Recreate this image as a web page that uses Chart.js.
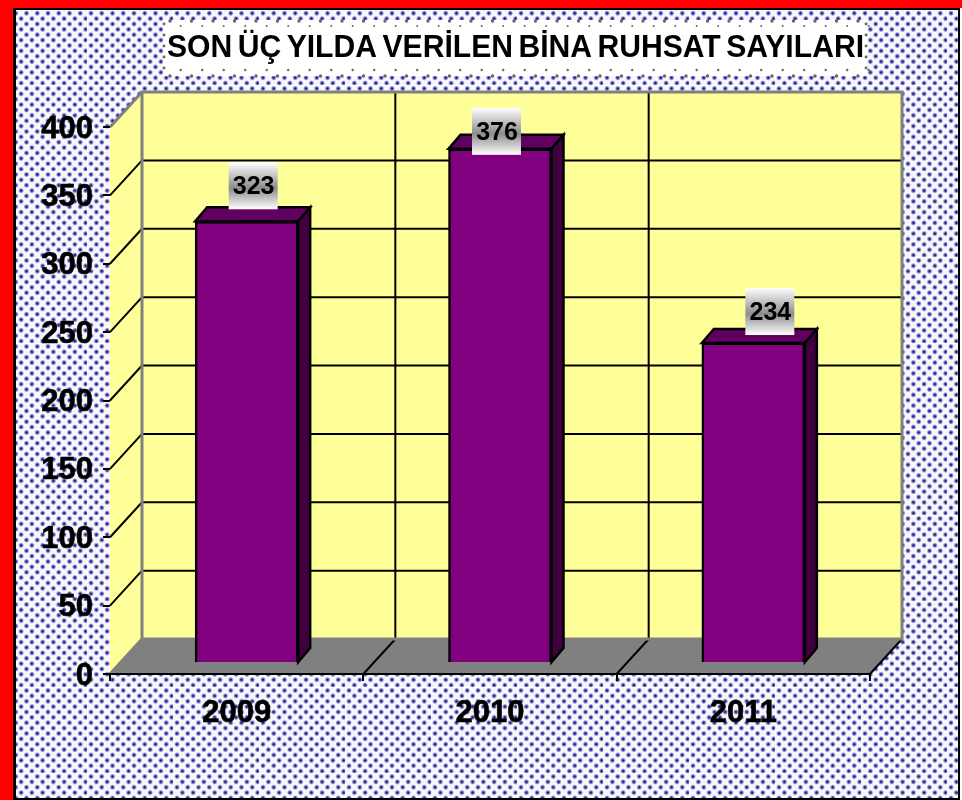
<!DOCTYPE html>
<html>
<head>
<meta charset="utf-8">
<title>Bina Ruhsat Sayilari</title>
<style>
    html, body { margin: 0; padding: 0; background: #fff; }
    canvas { display: block; }
</style>
<script src="https://cdn.jsdelivr.net/npm/chart.js@4"></script>
</head>
<body>
<canvas id="ruhsatChart" width="962" height="800"></canvas>
<script>
// chart data
const titleText = 'SON ÜÇ YILDA VERİLEN BİNA RUHSAT SAYILARI';
const years = ['2009', '2010', '2011'];
const permits = [323, 376, 234];

// 3D look
const wallDepth = { x: 32, y: -35 };
const barShift = { x: 10, y: -11 };
const barDepth = { x: 12, y: -14 };
// label boxes do not sit centred on their bars in the original
const labelShift = [{ x: 7, y: -35 }, { x: -3, y: -17 }, { x: 17, y: -31 }];

function polygon(ctx, points, fill, stroke, lineWidth) {
    ctx.beginPath();
    points.forEach((p, i) => i ? ctx.lineTo(p[0], p[1]) : ctx.moveTo(p[0], p[1]));
    ctx.closePath();
    if (fill) {
        ctx.fillStyle = fill;
        ctx.fill();
    }
    if (stroke) {
        ctx.strokeStyle = stroke;
        ctx.lineWidth = lineWidth;
        ctx.stroke();
    }
}

function line(ctx, x1, y1, x2, y2) {
    ctx.beginPath();
    ctx.moveTo(x1, y1);
    ctx.lineTo(x2, y2);
    ctx.stroke();
}

function dot(ctx, x, y, r) {
    ctx.beginPath();
    ctx.arc(x, y, r, 0, Math.PI * 2);
    ctx.fill();
}

// dotted tile of the page background, with a light seam on two edges
function makeTile() {
    const tile = document.createElement('canvas');
    tile.width = 86;
    tile.height = 86;
    const t = tile.getContext('2d');
    t.fillStyle = '#f6f6fc';
    t.fillRect(0, 0, 86, 86);
    for (let row = 0; row < 16; row++) {
        for (let col = -1; col < 9; col++) {
            const x = col * 10.75 + (row % 2 ? 5.375 : 0) + 3;
            const y = row * 5.375 + 2.5;
            const grad = t.createRadialGradient(x, y, 0.4, x, y, 3.2);
            grad.addColorStop(0, '#18188c');
            grad.addColorStop(0.35, '#6464b4');
            grad.addColorStop(0.7, '#c4c4e6');
            grad.addColorStop(1, 'rgba(246,246,252,0)');
            t.fillStyle = grad;
            dot(t, x, y, 3.2);
        }
    }
    t.fillStyle = 'rgba(255,255,255,0.8)';
    t.fillRect(85, 0, 1, 86);
    t.fillRect(0, 85, 86, 1);
    return tile;
}

// background, frame, title box, then walls and floor
const backdropPlugin = {
    id: 'backdrop',
    afterLayout(chart) {
        chart.titleBlock.left = 167;
        chart.titleBlock.right = 864;
        // tick labels sit a little lower than the tick marks
        chart.scales.y.getLabelItems().forEach(item => { item.options.translation[1] += 2; });
    },
    beforeDraw(chart) {
        const ctx = chart.ctx;
        const { left, right, top, bottom } = chart.chartArea;
        const yScale = chart.scales.y;
        const xScale = chart.scales.x;

        ctx.save();
        ctx.translate(2, 0);
        ctx.fillStyle = ctx.createPattern(makeTile(), 'repeat');
        ctx.fillRect(-2, 0, 962, 800);
        ctx.restore();

        // red frame
        ctx.save();
        ctx.fillStyle = '#f00';
        ctx.fillRect(0, 0, 962, 8);
        ctx.fillRect(0, 0, 13, 800);
        ctx.fillStyle = '#000';
        ctx.fillRect(13, 8, 947, 2);
        ctx.fillRect(13, 8, 3, 792);
        ctx.fillRect(958, 8, 2, 792);
        ctx.fillRect(13, 798, 947, 2);
        ctx.fillStyle = '#fff';
        ctx.fillRect(960, 8, 2, 792);

        // title box with its sparse dots
        ctx.fillStyle = '#fff';
        ctx.fillRect(163, 20, 704, 56);
        ctx.fillStyle = '#666';
        for (let x = 170; x < 866; x += 21.5) {
            dot(ctx, x, 21, 1.7);
            dot(ctx, x, 76, 1.7);
            dot(ctx, x + 10.7, 26, 1);
            dot(ctx, x + 10.7, 70, 1.2);
        }
        for (let y = 24; y < 76; y += 11) {
            dot(ctx, 164, y, 1.4);
            dot(ctx, 866, y, 1.4);
        }

        // floor
        const dx = wallDepth.x;
        const dy = wallDepth.y;
        polygon(ctx, [[left, bottom], [left + dx, bottom + dy], [right + dx, bottom + dy], [right, bottom]], '#808080');
        // side wall
        polygon(ctx, [[left, bottom], [left + dx, bottom + dy], [left + dx, top + dy], [left, top]], '#ffff99');
        // back wall
        ctx.fillStyle = '#ffff99';
        ctx.fillRect(left + dx, top + dy, right - left, bottom - top);

        // grid lines on the walls
        ctx.strokeStyle = '#000';
        ctx.lineWidth = 2;
        yScale.ticks.forEach(tick => {
            const y = yScale.getPixelForValue(tick.value);
            if (tick.value === 0 || tick.value === yScale.max) return;
            line(ctx, left, y, left + dx, y + dy);
            line(ctx, left + dx, y + dy, right + dx, y + dy);
        });
        const step = xScale.getPixelForValue(1) - xScale.getPixelForValue(0);
        years.forEach((year, i) => {
            const x = xScale.getPixelForValue(i) + step / 2;
            line(ctx, x, bottom, x + dx, bottom + dy);
            if (i < years.length - 1) line(ctx, x + dx, top + dy, x + dx, bottom + dy);
        });

        // grey wall edges
        ctx.strokeStyle = '#808080';
        ctx.lineWidth = 3;
        line(ctx, left, top, left + dx, top + dy);
        line(ctx, left, bottom, left + dx, bottom + dy);
        ctx.strokeRect(left + dx, top + dy, right - left, bottom - top);
        ctx.restore();

        // the title has narrow word gaps
        ctx.wordSpacing = '-3px';
    },
    beforeDatasetsDraw(chart) {
        chart.ctx.wordSpacing = '0px';
    }
};

// shifts the bars into the box and adds their top and side faces
const barsPlugin = {
    id: 'bars3d',
    beforeDatasetsDraw(chart) {
        const ctx = chart.ctx;
        ctx.save();
        ctx.translate(barShift.x, barShift.y);
        chart.getDatasetMeta(0).data.forEach(bar => {
            const l = bar.x - bar.width / 2;
            const r = bar.x + bar.width / 2;
            const dx = barDepth.x;
            const dy = barDepth.y;
            polygon(ctx, [[l, bar.y], [l + dx, bar.y + dy], [r + dx, bar.y + dy], [r, bar.y]], '#600060', '#000', 2.5);
            polygon(ctx, [[r, bar.y], [r + dx, bar.y + dy], [r + dx, bar.base + dy], [r, bar.base]], '#400040', '#000', 2.5);
        });
    },
    afterDatasetsDraw(chart) {
        const ctx = chart.ctx;
        ctx.restore();

        // value labels with the grey band
        chart.getDatasetMeta(0).data.forEach((bar, i) => {
            const cx = bar.x + barShift.x + labelShift[i].x;
            const cy = bar.y + barShift.y + labelShift[i].y;
            const grad = ctx.createLinearGradient(0, cy - 24, 0, cy + 23);
            grad.addColorStop(0, '#ffffff');
            grad.addColorStop(0.55, '#8c8c8c');
            grad.addColorStop(1, '#ffffff');
            ctx.save();
            ctx.fillStyle = grad;
            ctx.fillRect(cx - 25, cy - 24, 49, 47);
            ctx.fillStyle = '#000';
            ctx.font = 'bold 25px "Liberation Sans", Arial, sans-serif';
            ctx.textAlign = 'center';
            ctx.textBaseline = 'middle';
            ctx.fillText(String(permits[i]), cx, cy + 1);
            ctx.restore();
        });
    }
};

function createChart() {
    const canvas = document.getElementById('ruhsatChart');
    const tickFont = { family: '"Liberation Sans", Arial, sans-serif', size: 31, weight: 'bold' };

    new Chart(canvas.getContext('2d'), {
        type: 'bar',
        data: {
            labels: years,
            datasets: [{
                data: permits,
                backgroundColor: '#800080',
                borderColor: '#000',
                borderWidth: 2.5,
                barThickness: 103,
                clip: false
            }]
        },
        plugins: [backdropPlugin, barsPlugin],
        options: {
            responsive: false,
            animation: false,
            layout: { padding: { right: 92 } },
            plugins: {
                legend: { display: false },
                tooltip: { enabled: false },
                title: {
                    display: true,
                    text: titleText,
                    color: '#000',
                    font: { family: tickFont.family, size: 31, weight: 'bold', lineHeight: 1 },
                    padding: { top: 33, bottom: 63 }
                }
            },
            scales: {
                x: {
                    afterFit: scale => { scale.height = 126; },
                    border: { color: '#000', width: 2 },
                    grid: { drawOnChartArea: false, color: '#000', lineWidth: 2, tickLength: 7 },
                    ticks: { color: '#000', font: tickFont, padding: 14, maxRotation: 0, textStrokeColor: '#000', textStrokeWidth: 0.6 }
                },
                y: {
                    min: 0,
                    max: 400,
                    afterFit: scale => { scale.width = 110; },
                    border: { display: false },
                    grid: { drawOnChartArea: false, color: '#000', lineWidth: 2, tickLength: 7 },
                    ticks: { stepSize: 50, color: '#000', font: tickFont, padding: 10, textStrokeColor: '#000', textStrokeWidth: 0.6 }
                }
            }
        }
    });
}

createChart();
</script>
</body>
</html>
